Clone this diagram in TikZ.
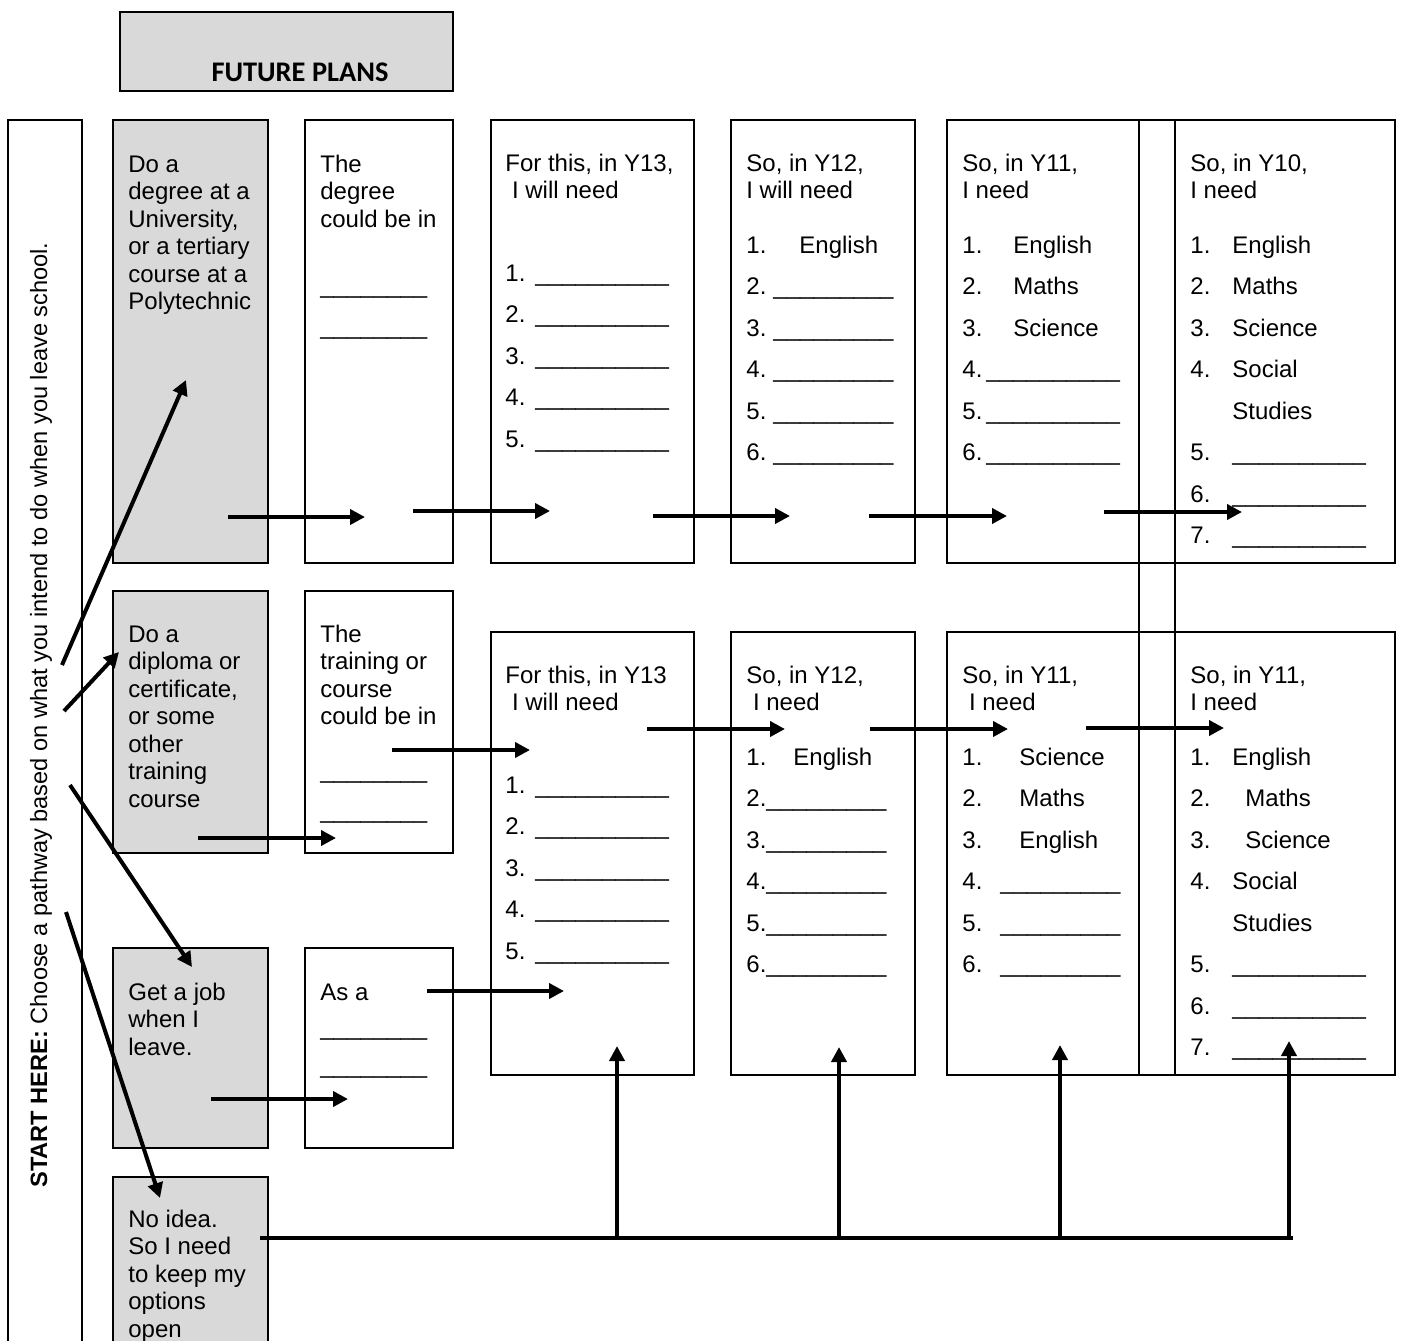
\documentclass[tikz,border=0pt]{standalone}
\usepackage{fontspec}
\setmainfont{Liberation Sans}
\newfontfamily\titlefont{Carlito}
\usetikzlibrary{arrows.meta}
\definecolor{boxgray}{HTML}{D9D9D9}
\newcommand\myblank[1]{\ifnum#1>0 \_\expandafter\myblank\expandafter{\the\numexpr#1-1\relax}\fi}
\newcommand\itemrow[6]{%
  \node[txt] (#1-n) at (#2,{#4}) {#5};
  \node[txt] (#1-w) at (#3,{#4}) {#6};}
\begin{document}
\begin{tikzpicture}[x=0.5pt,y=-0.5pt,
  bx/.style={draw=black,line width=1pt},
  gbx/.style={bx,fill=boxgray},
  txt/.style={inner sep=0pt,anchor=base west,font=\fontsize{12}{13.75}\selectfont},
  blk/.style={inner sep=0pt,anchor=north west,align=left,font=\fontsize{12}{13.75}\selectfont},
  arr/.style={line width=2pt,-{Triangle[length=7.5pt,width=7.5pt]}},
  bar/.style={line width=2pt}]
\useasboundingbox (0,0) rectangle (1402,1340);

% title
\draw[gbx] (120,12) rectangle (453,91);
\node[anchor=base,inner sep=0pt,font=\titlefont\bfseries\fontsize{14.2}{16}\selectfont] (title) at (300,81) {FUTURE PLANS};

% left strip
\draw[bx] (8,1350) -- (8,120) -- (82,120) -- (82,1350);
\node[rotate=90,inner sep=0pt,font=\fontsize{11.8}{13.75}\selectfont] (start) at (41,715)
  {\textbf{START HERE:} Choose a pathway based on what you intend to do when you leave school.};

% grey boxes
\draw[gbx] (113,120) rectangle (268,563);
\draw[gbx] (113,591) rectangle (268,853);
\draw[gbx] (113,948) rectangle (268,1148);
\draw[gbx] (113,1177) rectangle (268,1360);
% white boxes
\draw[bx] (305,120) rectangle (453,563);
\draw[bx] (305,591) rectangle (453,853);
\draw[bx] (305,948) rectangle (453,1148);
\draw[bx] (491,120) rectangle (694,563);
\draw[bx] (491,632) rectangle (694,1075);
\draw[bx] (731,120) rectangle (915,563);
\draw[bx] (731,632) rectangle (915,1075);
\draw[bx] (947,120) rectangle (1395,563);
\draw[bx] (947,632) rectangle (1395,1075);
\draw[bx] (1139,120) -- (1139,1075);
\draw[bx] (1175,120) -- (1175,1075);

% grey box texts
\node[blk] (gA) at (128,152.75) {\strut Do a\\degree at a\\University,\\or a tertiary\\course at a\\Polytechnic};
\node[blk] (gB) at (128,622.75) {\strut Do a\\diploma or\\certificate,\\or some\\other\\training\\course};
\node[blk] (gC) at (128,980.75) {\strut Get a job\\when I\\leave.};
\node[blk] (gD) at (128,1207.75) {\strut No idea.\\So I need\\to keep my\\options\\open};

% second column texts
\node[blk] (w1) at (320,152.75) {\strut The\\degree\\could be in};
\node[txt] (w1a) at (320,293) {\myblank{8}};
\node[txt] (w1b) at (320,334) {\myblank{8}};
\node[blk] (w2) at (320,622.75) {\strut The\\training or\\course\\could be in};
\node[txt] (w2a) at (320,778) {\myblank{8}};
\node[txt] (w2b) at (320,818) {\myblank{8}};
\node[txt] (w3) at (320,1000) {As a};
\node[txt] (w3a) at (320,1035) {\myblank{8}};
\node[txt] (w3b) at (320,1073) {\myblank{8}};

% headings
\node[blk] (c3t) at (505,151.75) {\strut For this, in Y13,\\\ I will need};
\node[blk] (c4t) at (746,151.75) {\strut So, in Y12,\\I will need};
\node[blk] (c5t) at (962,151.75) {\strut So, in Y11,\\I need};
\node[blk] (c6t) at (1190,151.75) {\strut So, in Y10,\\I need};
\node[blk] (c3b) at (505,663.75) {\strut For this, in Y13\\\ I will need};
\node[blk] (c4b) at (746,663.75) {\strut So, in Y12,\\\ I need};
\node[blk] (c5b) at (962,663.75) {\strut So, in Y11,\\\ I need};
\node[blk] (c6b) at (1190,663.75) {\strut So, in Y11,\\I need};

% column 3 lists
\foreach \i in {1,...,5} {\itemrow{c3t\i}{505}{535}{281+41.5*(\i-1)}{\i.}{\myblank{10}}}
\foreach \i in {1,...,5} {\itemrow{c3b\i}{505}{535}{793+41.5*(\i-1)}{\i.}{\myblank{10}}}

% column 4 lists
\itemrow{c4t1}{746}{799}{253}{1.}{English}
\foreach \i in {2,...,6} {\itemrow{c4t\i}{746}{773}{253+41.5*(\i-1)}{\i.}{\myblank{9}}}
\itemrow{c4b1}{746}{793}{765}{1.}{English}
\foreach \i in {2,...,6} {\node[txt] (c4b\i) at (746,{765+41.5*(\i-1)}) {\i.\myblank{9}};}

% column 5 lists
\itemrow{c5t1}{962}{1013}{253}{1.}{English}
\itemrow{c5t2}{962}{1013}{294.5}{2.}{Maths}
\itemrow{c5t3}{962}{1013}{336}{3.}{Science}
\foreach \i in {4,5,6} {\itemrow{c5t\i}{962}{986}{253+41.5*(\i-1)}{\i.}{\myblank{10}}}
\itemrow{c5b1}{962}{1019}{765}{1.}{Science}
\itemrow{c5b2}{962}{1019}{806.5}{2.}{Maths}
\itemrow{c5b3}{962}{1019}{848}{3.}{English}
\foreach \i in {4,5,6} {\itemrow{c5b\i}{962}{1000}{765+41.5*(\i-1)}{\i.}{\myblank{9}}}

% column 6 lists
\itemrow{c6t1}{1190}{1232}{253}{1.}{English}
\itemrow{c6t2}{1190}{1232}{294.5}{2.}{Maths}
\itemrow{c6t3}{1190}{1232}{336}{3.}{Science}
\itemrow{c6t4}{1190}{1232}{377.5}{4.}{Social}
\node[txt] (c6tst) at (1232,419) {Studies};
\foreach \i in {5,6,7} {\itemrow{c6t\i}{1190}{1232}{253+41.5*\i}{\i.}{\myblank{10}}}
\itemrow{c6b1}{1190}{1232}{765}{1.}{English}
\itemrow{c6b2}{1190}{1245}{806.5}{2.}{Maths}
\itemrow{c6b3}{1190}{1245}{848}{3.}{Science}
\itemrow{c6b4}{1190}{1232}{889.5}{4.}{Social}
\node[txt] (c6bst) at (1232,931) {Studies};
\foreach \i in {5,6,7} {\itemrow{c6b\i}{1190}{1232}{765+41.5*\i}{\i.}{\myblank{10}}}

% arrow end points
\coordinate (t1s) at (228,517);  \coordinate (t1e) at (365,517);
\coordinate (t2s) at (413,511);  \coordinate (t2e) at (550,511);
\coordinate (t3s) at (653,516);  \coordinate (t3e) at (790,516);
\coordinate (t4s) at (869,516);  \coordinate (t4e) at (1007,516);
\coordinate (t5s) at (1104,512); \coordinate (t5e) at (1242,512);
\coordinate (b1s) at (392,750);  \coordinate (b1e) at (530,750);
\coordinate (b2s) at (647,729);  \coordinate (b2e) at (785,729);
\coordinate (b3s) at (870,729);  \coordinate (b3e) at (1008,729);
\coordinate (b4s) at (1086,728); \coordinate (b4e) at (1224,728);
\coordinate (b5s) at (427,991);  \coordinate (b5e) at (564,991);
\coordinate (b6s) at (198,838);  \coordinate (b6e) at (336,838);
\coordinate (b7s) at (211,1099); \coordinate (b7e) at (348,1099);
\coordinate (d1s) at (62,665);   \coordinate (d1e) at (186,380);
\coordinate (d2s) at (64,711);   \coordinate (d2e) at (119,652);
\coordinate (d3s) at (70,785);   \coordinate (d3e) at (192,967);
\coordinate (d4s) at (66,912);   \coordinate (d4e) at (160,1198);
\coordinate (nl) at (260,1238);  \coordinate (nr) at (1293,1238);
\coordinate (v1s) at (617,1238); \coordinate (v1e) at (617,1046);
\coordinate (v2s) at (839,1238); \coordinate (v2e) at (839,1047);
\coordinate (v3s) at (1060,1238);\coordinate (v3e) at (1060,1045);
\coordinate (v4s) at (1289,1238);\coordinate (v4e) at (1289,1041);

% arrows
\foreach \a in {t1,t2,t3,t4,t5,b1,b2,b3,b4,b5,b6,b7,d1,d2,d3,d4,v1,v2,v3,v4}
  {\draw[arr] (\a s) -- (\a e);}
\draw[bar] (nl) -- (nr);
\end{tikzpicture}
\end{document}
